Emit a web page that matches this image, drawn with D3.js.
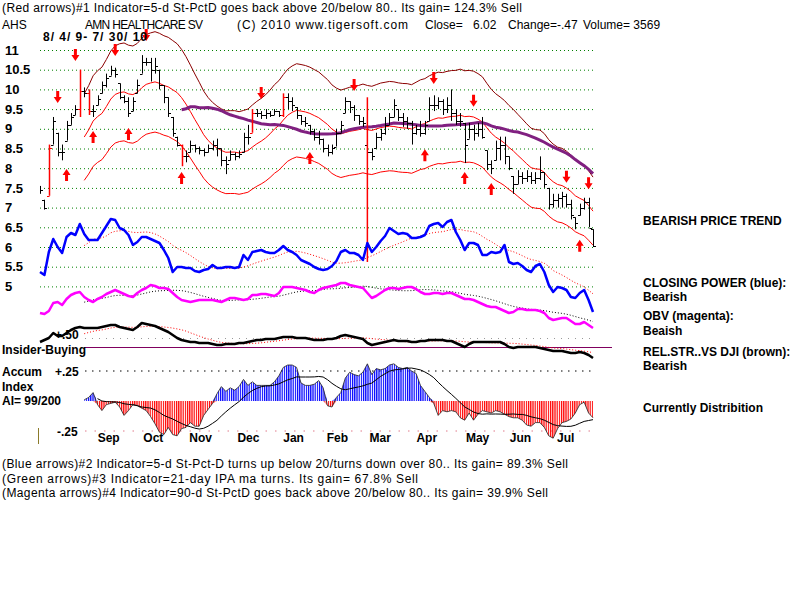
<!DOCTYPE html>
<html lang="en">
<head>
<meta charset="UTF-8">
<title>AHS - AMN Healthcare</title>
<script src="https://d3js.org/d3.v7.min.js"></script>
<style>
  body { margin: 0; background: #fff; }
  svg { display: block; font-family: "Liberation Sans", Arial, sans-serif; }
  text { white-space: pre; }
  .hdr { font-size: 12px; }
  .lbl { font-size: 12px; font-weight: bold; }
</style>
</head>
<body>
<svg id="main" width="800" height="600"></svg>
<script>
// price bars, one bar per two trading days, 8/4/09 - 7/30/10
const highs = [7.55,7.2,8.6,9.3,8.9,8.6,9.2,9.4,9.6,10.5,
  10.05,10.0,9.6,9.85,10.2,10.4,10.6,10.55,10.15,9.85,
  9.8,9.8,10.25,10.87,10.8,10.8,10.8,10.5,10.1,9.8,
  9.3,8.8,8.6,8.45,8.7,8.6,8.55,8.5,8.6,8.7,
  8.75,8.5,8.3,8.45,8.4,8.45,8.9,9.1,9.5,9.5,
  9.45,9.5,9.45,9.5,9.45,9.9,9.9,9.8,9.55,9.35,
  9.3,9.1,9.0,8.95,8.75,8.6,8.6,9.0,9.2,9.8,
  9.7,9.6,9.35,9.3,8.6,8.5,8.9,9.0,9.3,9.4,
  9.75,9.5,9.4,9.3,9.2,9.1,9.2,9.2,9.8,9.85,
  9.8,9.75,9.8,10.0,9.5,9.4,9.15,9.15,9.1,9.15,
  9.3,8.45,8.2,8.7,8.8,8.8,8.3,7.8,7.95,7.9,
  7.95,7.9,7.9,8.3,7.9,7.5,7.35,7.35,7.4,7.35,
  7.2,6.75,7.1,7.25,7.25,6.45];
const lows = [7.35,6.95,7.3,8.6,8.3,8.2,8.7,9.1,9.35,9.3,
  9.8,9.35,9.3,9.6,9.9,10.05,10.35,10.3,9.75,9.65,
  9.3,9.45,9.9,10.4,10.6,10.2,10.4,10.0,9.65,9.3,
  8.8,8.55,8.05,8.15,8.4,8.4,8.35,8.3,8.4,8.45,
  8.3,8.05,7.85,8.2,8.2,8.25,8.4,8.6,8.9,9.3,
  9.25,9.25,9.3,9.35,9.3,9.3,9.5,9.45,9.25,9.1,
  9.05,8.85,8.7,8.6,8.4,8.3,8.35,8.55,8.9,9.4,
  9.4,9.2,9.1,9.05,8.3,8.2,8.5,8.7,8.85,9.1,
  9.3,9.2,9.05,9.0,8.6,8.85,8.8,8.85,9.2,9.45,
  9.5,9.35,9.4,9.2,9.1,9.05,8.13,8.75,8.7,8.8,
  8.75,7.95,7.85,8.2,8.2,8.1,7.95,7.35,7.6,7.6,
  7.65,7.6,7.6,7.7,7.5,6.95,7.0,7.0,7.0,7.0,
  6.7,6.45,6.8,6.95,6.5,6.0];
const closes = [7.45,7.0,8.5,9.2,8.4,8.4,9.1,9.3,9.5,9.95,
  9.9,9.45,9.45,9.75,10.1,10.3,10.5,10.4,9.8,9.7,
  9.4,9.7,10.1,10.7,10.7,10.5,10.6,10.1,9.8,9.4,
  8.9,8.6,8.3,8.3,8.6,8.5,8.45,8.4,8.5,8.6,
  8.5,8.2,8.1,8.35,8.3,8.35,8.8,8.8,9.4,9.4,
  9.35,9.4,9.35,9.45,9.35,9.8,9.7,9.6,9.35,9.2,
  9.15,8.95,8.8,8.75,8.5,8.4,8.5,8.9,9.1,9.7,
  9.55,9.35,9.2,9.15,8.4,8.3,8.8,8.9,9.1,9.3,
  9.6,9.3,9.2,9.15,8.9,9.0,8.9,9.1,9.6,9.6,
  9.7,9.5,9.6,9.4,9.2,9.2,8.6,9.0,8.9,9.0,
  8.8,8.1,8.0,8.5,8.6,8.3,8.0,7.6,7.8,7.75,
  7.8,7.7,7.75,7.9,7.6,7.1,7.2,7.25,7.3,7.1,
  6.8,6.6,7.0,7.15,6.49,6.02];
const redBars = [2, 9, 11, 32, 48, 55];
const signalLine = { bar: 74, top: 9.8, bottom: 5.62 };

// closing power (blue), OBV (magenta), relative strength vs DJI (black)
const closingPower = [-2,-5,18,31,23,17,33,37,35,46,
  36,30,30,30,37,44,51,50,42,40,
  35,25,28,33,33,31,29,27,20,12,
  -2,3,3,2,2,-1,-2,0,1,5,
  2,2,3,3,2,3,15,10,18,19,
  20,18,17,17,20,24,20,18,15,10,
  8,6,3,1,0,1,4,9,18,20,
  17,17,15,10,27,18,23,29,34,42,
  39,36,37,36,32,32,33,35,44,46,
  47,43,48,50,38,30,20,27,27,25,
  15,15,18,17,18,25,8,6,7,4,
  0,-2,4,6,-2,-15,-22,-17,-18,-20,
  -27,-28,-23,-20,-30,-42];
const obv = [17,16,19,27,28,25,31,35,37,38,
  33,30,28,31,33,36,38,40,38,36,
  34,33,37,40,42,45,44,42,42,41,
  37,33,30,29,28,29,30,30,30,30,
  29,28,30,32,32,31,30,31,35,35,
  36,36,35,34,37,43,43,43,42,41,
  40,38,37,40,42,43,44,45,47,47,
  45,44,43,42,37,32,34,37,40,42,
  42,41,42,43,43,41,38,36,36,37,
  37,36,37,37,35,33,31,31,30,28,
  26,24,23,23,21,19,17,18,21,21,
  20,20,20,19,17,12,10,11,12,12,
  9,6,6,8,5,2];
const relStr = [18,20,22,27,24,24,27,30,32,33,
  32,32,32,32,33,34,35,35,33,32,
  31,30,33,37,36,35,34,32,30,28,
  25,22,20,19,18,18,17,17,17,16,
  15,15,16,16,16,17,17,18,19,20,
  20,21,21,21,22,23,23,23,22,22,
  22,21,20,20,20,21,21,22,24,25,
  24,23,22,21,17,15,16,17,18,19,
  20,19,19,19,18,18,19,19,20,20,
  20,20,19,19,17,15,13,16,18,18,
  18,18,18,18,18,16,13,12,13,13,
  13,13,13,12,11,10,9,9,9,8,
  7,7,8,7,5,2];

// accumulation index
const accum = [null,null,null,null,null,null,null,null,null,null,
  0.01,0.03,0.07,-0.03,-0.08,-0.03,-0.02,-0.01,-0.05,-0.12,
  -0.08,-0.03,-0.04,-0.06,-0.08,-0.13,-0.19,-0.26,-0.28,-0.22,
  -0.28,-0.29,-0.23,-0.22,-0.18,-0.21,-0.21,-0.12,-0.07,-0.02,
  0.06,0.12,0.08,0.11,0.09,0.12,0.18,0.13,0.16,0.13,
  0.13,0.13,0.13,0.16,0.21,0.28,0.3,0.3,0.28,0.15,
  0.13,0.13,0.14,0.17,0.11,-0.04,-0.05,0.03,0.07,0.19,
  0.24,0.22,0.21,0.24,0.31,0.22,0.27,0.26,0.27,0.3,
  0.31,0.28,0.27,0.28,0.25,0.23,0.13,0.08,0.03,-0.02,
  -0.12,-0.08,-0.09,-0.08,-0.09,-0.14,-0.16,-0.1,-0.16,-0.11,
  -0.08,-0.09,-0.1,-0.08,-0.09,-0.11,-0.13,-0.14,-0.14,-0.16,
  -0.2,-0.21,-0.18,-0.18,-0.22,-0.29,-0.31,-0.23,-0.18,-0.17,
  -0.15,-0.1,-0.03,-0.01,-0.1,-0.14];

// signal arrows: [bar, price level]
const downArrows = [[4,9.81],[8,10.87],[17,11.0],[24,11.38],[50,9.91],[71,10.11],[89,10.29],[98,9.71],[119,7.78],[124,7.62]];
const upArrows = [[6,7.83],[12,8.79],[20,8.87],[32,7.75],[61,8.26],[87,8.33],[96,7.75],[102,7.47],[122,6.03]];

const priceTicks = [11,10.5,10,9.5,9,8.5,8,7.5,7,6.5,6,5.5,5];
const monthNames = ["Sep","Oct","Nov","Dec","Jan","Feb","Mar","Apr","May","Jun","Jul"];
const monthBars = [15.4,25.5,36.2,47.0,57.2,67.1,76.8,87.3,98.8,108.5,118.7];

const svg = d3.select("#main");

const x = d3.scaleLinear().domain([0, closes.length - 1]).range([40, 593]);
const yP = d3.scaleLinear().domain([5, 11]).range([286.4, 50]);
const yCP = d3.scaleLinear().domain([-50, 55]).range([320, 215]);
const yOBV = d3.scaleLinear().domain([0, 50]).range([330, 280]);
const yRS = d3.scaleLinear().domain([0, 40]).range([360, 320]);
const yAI = d3.scaleLinear().domain([-0.25, 0.25]).range([431, 371]);

function movAvg(arr, n, minCount) {
  return arr.map((d, i) => {
    if (i < n - 1 && minCount >= n) return null;
    const w = arr.slice(Math.max(0, i - n + 1), i + 1).filter(v => v != null);
    if (w.length < minCount) return null;
    return d3.mean(w);
  });
}

// gridlines + price labels
const gy = svg.append("g").attr("transform", "translate(40,0)")
  .call(d3.axisLeft(yP).tickValues(priceTicks).tickSizeInner(-555).tickSizeOuter(0).tickFormat(d => String(d)));
gy.select(".domain").remove();
gy.selectAll(".tick line").attr("stroke", "#008000").attr("stroke-dasharray", "1,3");
gy.selectAll(".tick text").attr("x", -35).attr("text-anchor", "start")
  .attr("font-size", 13).attr("font-weight", "bold").attr("fill", "#000")
  .attr("font-family", '"Liberation Sans", Arial, sans-serif');

// bands around 21-day average, 65-day average
const ma21 = movAvg(closes, 11, 11);
const ma65 = movAvg(closes, 33, 33);
const idxLine = (arr, ys) => d3.line().defined(d => d[1] != null).x(d => x(d[0])).y(d => ys(d[1]))(arr.map((v, i) => [i, v]));

svg.append("path").attr("d", idxLine(ma21.map(v => v == null ? null : v * 1.125), yP))
  .attr("fill", "none").attr("stroke", "#8b0000").attr("stroke-width", 1);
svg.append("path").attr("d", idxLine(ma21, yP)).attr("fill", "none").attr("stroke", "#ff0000").attr("stroke-width", 1);
svg.append("path").attr("d", idxLine(ma21.map(v => v == null ? null : v * 0.875), yP))
  .attr("fill", "none").attr("stroke", "#ff0000").attr("stroke-width", 1);
svg.append("path").attr("d", idxLine(ma65, yP)).attr("fill", "none").attr("stroke", "#802080").attr("stroke-width", 3);

// price bars
const bars = svg.append("g");
closes.forEach((c, i) => {
  const col = redBars.includes(i) ? "#ff0000" : "#000";
  const bx = Math.round(x(i)) + 0.5;
  bars.append("line").attr("x1", bx).attr("x2", bx).attr("y1", yP(lows[i])).attr("y2", yP(highs[i]))
    .attr("stroke", col).attr("stroke-width", redBars.includes(i) ? 1.5 : 1);
  bars.append("line").attr("x1", bx).attr("x2", bx + 2.5).attr("y1", Math.round(yP(c)) + 0.5).attr("y2", Math.round(yP(c)) + 0.5)
    .attr("stroke", col);
  if (i > 0) {
    const o = Math.min(Math.max(closes[i - 1], lows[i]), highs[i]);
    bars.append("line").attr("x1", bx - 2.5).attr("x2", bx).attr("y1", Math.round(yP(o)) + 0.5).attr("y2", Math.round(yP(o)) + 0.5)
      .attr("stroke", col);
  }
});
svg.append("line").attr("x1", x(signalLine.bar)).attr("x2", x(signalLine.bar))
  .attr("y1", yP(signalLine.top)).attr("y2", yP(signalLine.bottom)).attr("stroke", "#ff0000").attr("stroke-width", 1.5);

// arrows
function arrowPath(cx, cy, dir) {
  const s = dir;
  return "M" + (cx - 1.5) + "," + (cy - 6 * s) + "L" + (cx + 1.5) + "," + (cy - 6 * s) +
    "L" + (cx + 1.5) + "," + cy + "L" + (cx + 4) + "," + cy + "L" + cx + "," + (cy + 6 * s) +
    "L" + (cx - 4) + "," + cy + "L" + (cx - 1.5) + "," + cy + "Z";
}
svg.append("g").selectAll("path").data(downArrows).join("path")
  .attr("d", d => arrowPath(x(d[0]), yP(d[1]), 1)).attr("fill", "#ff0000");
svg.append("g").selectAll("path").data(upArrows).join("path")
  .attr("d", d => arrowPath(x(d[0]), yP(d[1]), -1)).attr("fill", "#ff0000");

// indicator lines
function drawInd(arr, ys, col, maCol) {
  svg.append("path").attr("d", idxLine(movAvg(arr, 11, 11), ys)).attr("fill", "none")
    .attr("stroke", maCol).attr("stroke-width", 1).attr("stroke-dasharray", "1,2");
  svg.append("path").attr("d", idxLine(arr, ys)).attr("fill", "none")
    .attr("stroke", col).attr("stroke-width", 2.5).attr("stroke-linejoin", "round");
}

// insider buying reference lines
svg.append("line").attr("x1", 85).attr("x2", 595).attr("y1", 338.5).attr("y2", 338.5)
  .attr("stroke", "#999").attr("stroke-dasharray", "1,6");
svg.append("text").attr("class", "lbl").attr("x", 55).attr("y", 339).attr("font-size", 11.5).text("+.50");
svg.append("line").attr("x1", 85).attr("x2", 612).attr("y1", 347.5).attr("y2", 347.5)
  .attr("stroke", "#80005f").attr("stroke-width", 1.2);
svg.append("text").attr("class", "lbl").attr("x", 2).attr("y", 354).attr("font-size", 11).text("Insider-Buying");

drawInd(closingPower, yCP, "#0000ff", "#ff0000");
drawInd(obv, yOBV, "#ff00ff", "#000");
drawInd(relStr, yRS, "#000", "#ff0000");

// accumulation index panel
const defs = svg.append("defs");
[["stripeBlue", "#0000ff"], ["stripeRed", "#ff0000"]].forEach(([id, col]) => {
  const p = defs.append("pattern").attr("id", id).attr("patternUnits", "userSpaceOnUse")
    .attr("width", 2.2).attr("height", 10);
  p.append("rect").attr("width", 1.2).attr("height", 10).attr("fill", col);
});
svg.append("line").attr("x1", 85).attr("x2", 595).attr("y1", yAI(0.25)).attr("y2", yAI(0.25))
  .attr("stroke", "#000").attr("stroke-dasharray", "1.5,5.5");
svg.append("line").attr("x1", 85).attr("x2", 595).attr("y1", yAI(-0.25)).attr("y2", yAI(-0.25))
  .attr("stroke", "#e07a8a").attr("stroke-dasharray", "1.5,8");
const aiPts = accum.map((v, i) => [i, v]);
const areaPos = d3.area().defined(d => d[1] != null).x(d => x(d[0])).y0(yAI(0)).y1(d => yAI(Math.max(d[1], 0)));
const areaNeg = d3.area().defined(d => d[1] != null).x(d => x(d[0])).y0(yAI(0)).y1(d => yAI(Math.min(d[1], 0)));
svg.append("path").attr("d", areaPos(aiPts)).attr("fill", "url(#stripeBlue)");
svg.append("path").attr("d", areaNeg(aiPts)).attr("fill", "url(#stripeRed)");
svg.append("path").attr("d", idxLine(accum, yAI)).attr("fill", "none").attr("stroke", "#222").attr("stroke-width", 0.8);
svg.append("path").attr("d", idxLine(movAvg(accum, 11, 4), yAI)).attr("fill", "none").attr("stroke", "#000").attr("stroke-width", 1);

svg.append("text").attr("class", "lbl").attr("x", 55).attr("y", 376).text("+.25");
svg.append("text").attr("class", "lbl").attr("x", 57).attr("y", 436).text("-.25");
svg.append("line").attr("x1", 38.5).attr("x2", 38.5).attr("y1", 428).attr("y2", 444).attr("stroke", "#8b7b2b");
["Accum", "Index", "AI= 99/200"].forEach((t, i) =>
  svg.append("text").attr("class", "lbl").attr("x", 2).attr("y", 376 + i * 14.5).text(t));

// months
const mx = svg.append("g").attr("transform", "translate(0,430)")
  .call(d3.axisBottom(x).tickValues(monthBars).tickSize(0).tickFormat((d, i) => monthNames[i]));
mx.select(".domain").remove();
mx.selectAll("text").attr("font-size", 12).attr("font-weight", "bold").attr("fill", "#000")
  .attr("font-family", '"Liberation Sans", Arial, sans-serif').attr("dy", "0.71em");

// header and footer text
svg.append("text").attr("class", "hdr").attr("x", 2).attr("y", 12).attr("textLength", 520)
  .text("(Red arrows)#1 Indicator=5-d St-PctD goes back above 20/below 80.. Its gain= 124.3% Sell");
const hdr2 = [["AHS", 2, null], ["AMN HEALTHCARE SV", 85, 118], ["(C) 2010 www.tigersoft.com", 237, 171],
  ["Close=", 425, null], ["6.02", 473, null], ["Change=-.47", 508, null], ["Volume= 3569", 583, null]];
hdr2.forEach(([t, xx, w]) => {
  const el = svg.append("text").attr("class", "hdr").attr("x", xx).attr("y", 29).text(t);
  if (w) el.attr("textLength", w);
});
svg.append("text").attr("class", "lbl").attr("x", 43).attr("y", 41).attr("textLength", 104).text("8/ 4/ 9- 7/ 30/ 10");

const footer = [
  ["(Blue arrows)#2 Indicator=5-d St-Pct-D turns up below 20/turns down over 80.. Its gain= 89.3% Sell", 566],
  ["(Green arrows)#3 Indicator=21-day IPA ma turns. Its gain= 67.8% Sell", 416],
  ["(Magenta arrows)#4 Indicator=90-d St-PctD goes back above 20/below 80.. Its gain= 39.9% Sell", 546]
];
footer.forEach(([t, w], i) =>
  svg.append("text").attr("class", "hdr").attr("x", 2).attr("y", 468 + i * 14.5).attr("textLength", w).text(t));

const side = [["BEARISH PRICE TREND", 225], ["CLOSING POWER (blue):", 287], ["Bearish", 301],
  ["OBV (magenta):", 320], ["Beaish", 335], ["REL.STR..VS DJI (brown):", 356], ["Bearish", 370],
  ["Currently Distribition", 412]];
side.forEach(([t, yy]) => svg.append("text").attr("class", "lbl").attr("x", 643).attr("y", yy).text(t));
</script>
</body>
</html>
